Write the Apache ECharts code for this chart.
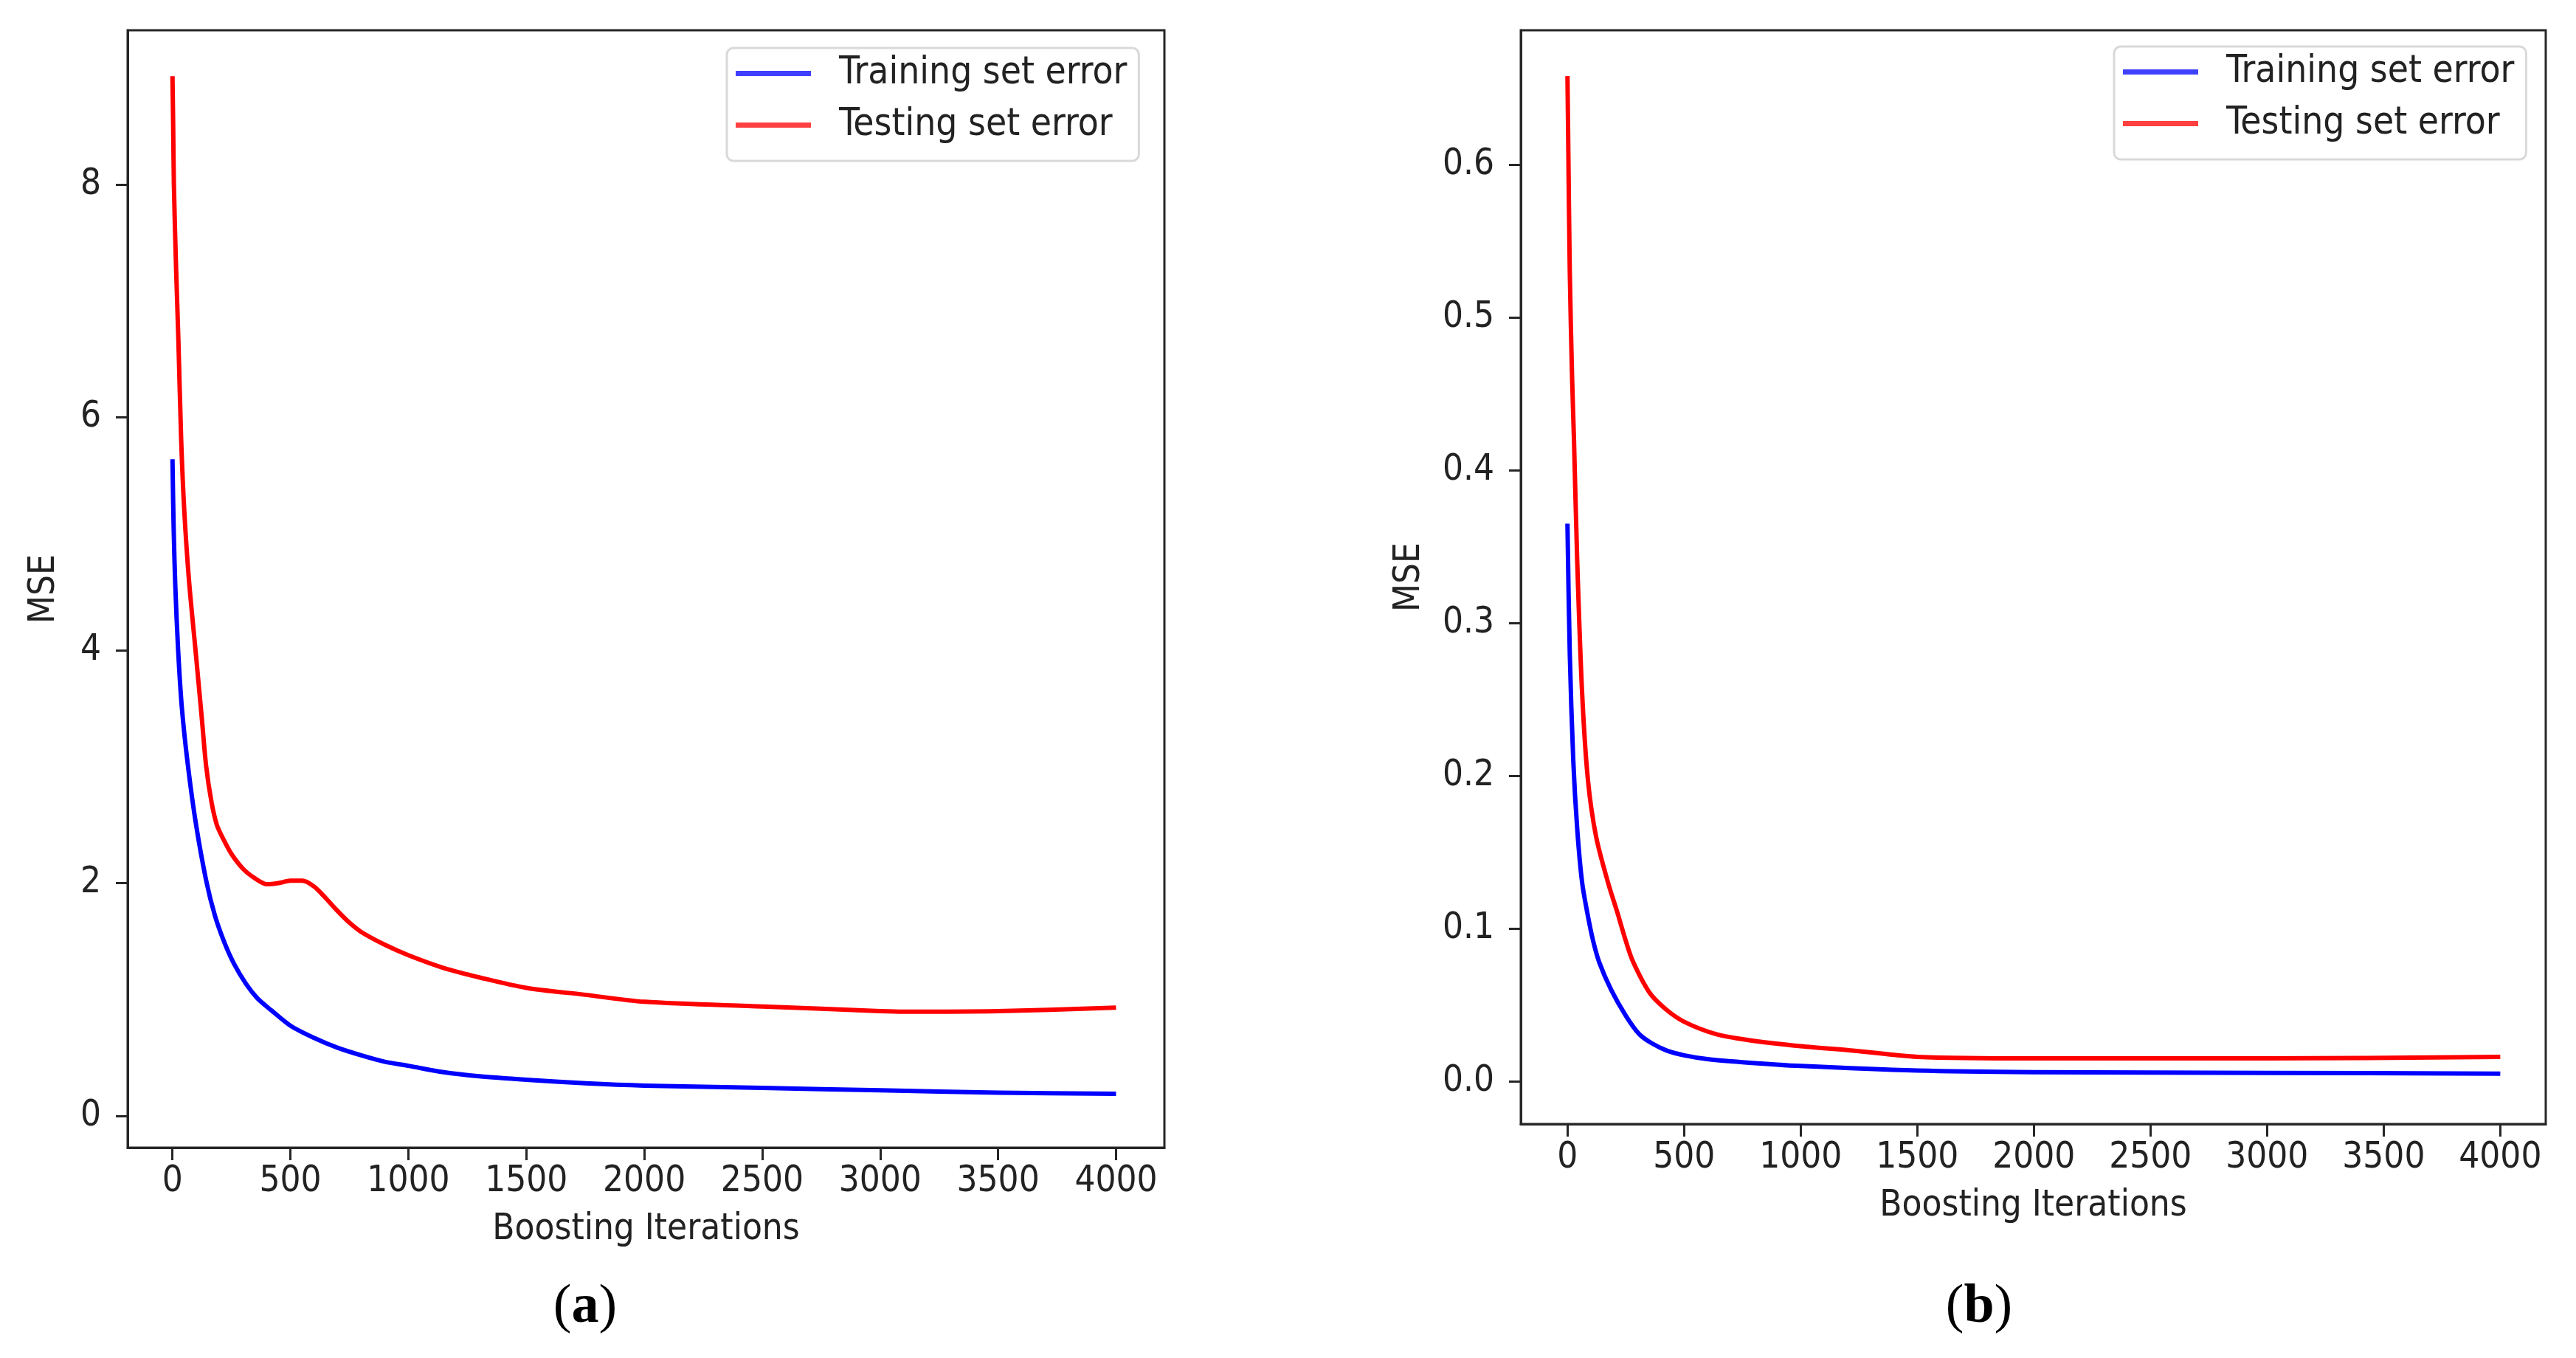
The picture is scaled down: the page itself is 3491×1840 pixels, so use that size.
<!DOCTYPE html>
<html>
<head>
<meta charset="utf-8">
<script src="https://cdn.jsdelivr.net/npm/echarts@6/dist/echarts.min.js"></script>
<style>
html,body{margin:0;padding:0;background:#ffffff;}
#chart{width:3491px;height:1840px;}
</style>
</head>
<body>
<div id="chart"></div>
<script>
// ---------- data ----------
const seriesNames = ['Training set error', 'Testing set error'];
const captionLetters = ['a', 'b'];
const xTickValues = [0, 500, 1000, 1500, 2000, 2500, 3000, 3500, 4000];
const yTickValuesA = [0, 2, 4, 6, 8];
const yTickValuesB = [0, 0.1, 0.2, 0.3, 0.4, 0.5, 0.6];

// panel (a)
const iterTrainA = [0, 5, 12, 24, 40, 66, 100, 143, 180, 220, 260, 313, 360, 420, 500, 600, 700, 800, 900, 1000, 1150, 1300, 1500, 1750, 2000, 2500, 3000, 3500, 4000];
const trainA     = [5.64, 5.05, 4.55, 4.0, 3.5, 3.0, 2.5, 2.02, 1.72, 1.49, 1.31, 1.13, 1.01, 0.905, 0.775, 0.67, 0.585, 0.52, 0.465, 0.43, 0.375, 0.34, 0.31, 0.28, 0.26, 0.24, 0.22, 0.20, 0.19];
const iterTestA  = [0, 3, 6, 15, 25, 37, 50, 70, 100, 125, 143, 165, 188, 215, 250, 300, 350, 400, 450, 500, 550, 600, 650, 700, 750, 800, 900, 1000, 1150, 1300, 1500, 1750, 2000, 2500, 3000, 3100, 3500, 4000];
const testA      = [8.93, 8.5, 8.0, 7.3, 6.67, 5.8, 5.2, 4.6, 3.95, 3.4, 3.0, 2.7, 2.5, 2.38, 2.25, 2.12, 2.04, 1.99, 2.0, 2.02, 2.02, 1.97, 1.87, 1.76, 1.66, 1.58, 1.47, 1.38, 1.27, 1.19, 1.10, 1.04, 0.98, 0.94, 0.90, 0.895, 0.90, 0.93];

// panel (b)
const iterTrainB = [0, 10, 25, 42, 63, 88, 110, 136, 187, 250, 307, 360, 427, 500, 600, 750, 1000, 1500, 2000, 3000, 4000];
const trainB     = [0.365, 0.28, 0.21, 0.165, 0.13, 0.108, 0.092, 0.078, 0.060, 0.043, 0.031, 0.025, 0.020, 0.017, 0.0145, 0.0125, 0.010, 0.007, 0.006, 0.0055, 0.005];
const iterTestB  = [0, 3, 10, 20, 28, 42, 63, 88, 123, 176, 211, 250, 282, 352, 423, 500, 634, 775, 1000, 1232, 1500, 2000, 3000, 4000];
const testB      = [0.658, 0.62, 0.53, 0.46, 0.42, 0.34, 0.254, 0.197, 0.16, 0.129, 0.112, 0.092, 0.078, 0.058, 0.047, 0.039, 0.031, 0.027, 0.023, 0.020, 0.016, 0.015, 0.015, 0.016];

// ---------- styling ----------
const FONT = "'DejaVu Sans Condensed', 'DejaVu Sans', sans-serif";
const TXT = '#222222';
const FRAME = '#262626';
const lineColors = ['#0000ff', '#ff0000'];
const legendColors = ['#4040ff', '#ff4040'];

function pairs(xs, ys) { return xs.map((x, i) => [x, ys[i]]); }

function makeX(gridIndex, min, max) {
  return {
    type: 'value', gridIndex, min, max,
    name: 'Boosting Iterations', nameLocation: 'middle', nameGap: 87,
    nameTextStyle: {fontSize: 49, fontFamily: FONT, color: TXT},
    axisLine: {show: true, onZero: false, lineStyle: {color: FRAME, width: 3}},
    axisTick: {show: true, inside: false, length: 17, customValues: xTickValues, lineStyle: {color: FRAME, width: 3}},
    axisLabel: {show: true, customValues: xTickValues, margin: 22, fontSize: 49, fontFamily: FONT, color: TXT,
                formatter: v => String(v)},
    splitLine: {show: false}
  };
}
function makeY(gridIndex, min, max, ticks, gap, dec) {
  return {
    type: 'value', gridIndex, min, max,
    name: 'MSE', nameLocation: 'middle', nameGap: gap,
    nameTextStyle: {fontSize: 49, fontFamily: FONT, color: TXT},
    axisLine: {show: true, onZero: false, lineStyle: {color: FRAME, width: 3}},
    axisTick: {show: true, inside: false, length: 16, customValues: ticks, lineStyle: {color: FRAME, width: 3}},
    axisLabel: {show: true, customValues: ticks, margin: 36, fontSize: 49, fontFamily: FONT, color: TXT,
                formatter: v => v.toFixed(dec)},
    splitLine: {show: false}
  };
}
function makeLegend(left, top) {
  return {
    orient: 'vertical', left, top,
    icon: 'rect', itemWidth: 102, itemHeight: 7, itemGap: 19,
    padding: [9, 16, 23, 12],
    backgroundColor: '#ffffff', borderColor: '#d9d9d9', borderWidth: 3, borderRadius: 9,
    textStyle: {fontSize: 51, fontFamily: FONT, color: TXT, padding: [0, 0, 0, 33]},
    selectedMode: false,
    data: seriesNames.map((n, i) => ({name: n, itemStyle: {color: legendColors[i]}}))
  };
}
function makeSeries(name, data, xi, colorIdx) {
  return {
    type: 'line', name, data, xAxisIndex: xi, yAxisIndex: xi,
    showSymbol: false, symbol: 'none', smooth: 0.3,
    lineStyle: {color: lineColors[colorIdx], width: 6, join: 'round', cap: 'butt'},
    itemStyle: {color: lineColors[colorIdx]},
    z: 2 + colorIdx, animation: false
  };
}

const option = {
  backgroundColor: '#ffffff',
  animation: false,
  grid: [
    {left: 173, top: 41, width: 1405, height: 1514, show: true, borderColor: FRAME, borderWidth: 3, backgroundColor: 'transparent'},
    {left: 2061, top: 41, width: 1389, height: 1482, show: true, borderColor: FRAME, borderWidth: 3, backgroundColor: 'transparent'}
  ],
  xAxis: [makeX(0, -190, 4205), makeX(1, -200, 4195)],
  yAxis: [makeY(0, -0.273, 9.325, yTickValuesA, 88, 0), makeY(1, -0.028, 0.688, yTickValuesB, 126, 1)],
  legend: [makeLegend(985, 65), makeLegend(2865, 63)],
  series: [
    makeSeries(seriesNames[0], pairs(iterTrainA, trainA), 0, 0),
    makeSeries(seriesNames[1], pairs(iterTestA, testA), 0, 1),
    makeSeries(seriesNames[0], pairs(iterTrainB, trainB), 1, 0),
    makeSeries(seriesNames[1], pairs(iterTestB, testB), 1, 1)
  ],
  graphic: [
    {x: 793, y: 1772, letter: captionLetters[0]},
    {x: 2682, y: 1772, letter: captionLetters[1]}
  ].map(c => ({
    type: 'text', x: c.x, y: c.y,
    style: {
      text: '{p|(}{b|' + c.letter + '}{p|)}',
      align: 'center', verticalAlign: 'middle',
      fill: '#000000',
      rich: {
        p: {fontFamily: "'Liberation Serif', 'Times New Roman', serif", fontSize: 74, fontWeight: 'normal', fill: '#000'},
        b: {fontFamily: "'Liberation Serif', 'Times New Roman', serif", fontSize: 74, fontWeight: 'bold', fill: '#000'}
      }
    }
  }))
};

const chart = echarts.init(document.getElementById('chart'), null, {renderer: 'canvas'});
chart.setOption(option);
</script>
</body>
</html>
